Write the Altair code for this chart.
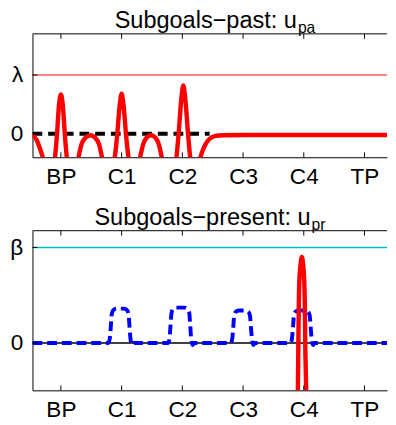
import altair as alt
import pandas as pd

FONT = "Liberation Sans, Arial, Helvetica, sans-serif"

# ---- categories / ticks ----
cat_labels = ["BP", "C1", "C2", "C3", "C4", "TP"]
cat_pos = [1, 2, 3, 4, 5, 6]

# ---- titles ----
title_top = ["Subgoals\u2212past: u", "pa"]
title_bot = ["Subgoals\u2212present: u", "pr"]

# ---- top panel (u_pa) ----
lam_level = [1.0]
past_zero_x = [0.532, 3.45]
past_zero_y = [0.0, 0.0]
past_x = [0.532, 0.597, 0.661, 0.710, 0.758, 0.823, 0.871, 0.903, 0.935, 0.968,
          1.000, 1.032, 1.065, 1.097, 1.145, 1.210, 1.258, 1.290, 1.339, 1.403,
          1.484, 1.565, 1.629, 1.677, 1.726, 1.790, 1.855, 1.887, 1.927, 1.968,
          2.000, 2.032, 2.073, 2.113, 2.161, 2.226, 2.274, 2.306, 2.355, 2.403,
          2.484, 2.565, 2.613, 2.661, 2.710, 2.774, 2.855, 2.903, 2.944, 2.984,
          3.016, 3.048, 3.089, 3.129, 3.177, 3.242, 3.290, 3.355, 3.435, 3.532,
          3.677, 4.032, 4.839, 6.387]
past_y = [-0.03, -0.10, -0.27, -0.43, -0.68, -0.77, -0.60, -0.40, -0.02, 0.48,
          0.67, 0.48, -0.02, -0.40, -0.73, -0.80, -0.57, -0.40, -0.18, -0.07,
          -0.025, -0.07, -0.18, -0.40, -0.63, -0.77, -0.60, -0.40, -0.02, 0.48,
          0.68, 0.48, -0.02, -0.40, -0.68, -0.77, -0.57, -0.40, -0.18, -0.08,
          -0.025, -0.08, -0.18, -0.40, -0.63, -0.80, -0.63, -0.40, 0.07, 0.60,
          0.82, 0.60, 0.07, -0.40, -0.73, -0.63, -0.43, -0.23, -0.10, -0.04,
          -0.025, -0.02, -0.02, -0.02]

# ---- bottom panel (u_pr) ----
beta_level = [1.0]
pres_zero = [0.0]
blue_x = [0.532,
          1.782, 1.806, 1.823, 1.839, 1.871, 1.919, 2.032, 2.081, 2.113, 2.129, 2.145, 2.169, 2.194,
          2.766, 2.790, 2.806, 2.823, 2.855, 2.903, 3.032, 3.081, 3.113, 3.129, 3.145, 3.169, 3.194,
          3.798, 3.823, 3.839, 3.855, 3.887, 3.935, 4.032, 4.081, 4.113, 4.129, 4.145, 4.169, 4.194,
          4.782, 4.806, 4.823, 4.839, 4.871, 4.919, 5.016, 5.065, 5.097, 5.113, 5.129, 5.153, 5.177,
          6.387]
blue_y = [0.0,
          0.0, 0.05, 0.18, 0.31, 0.35, 0.36, 0.36, 0.35, 0.31, 0.18, 0.05, -0.02, 0.0,
          0.0, 0.05, 0.19, 0.32, 0.36, 0.37, 0.37, 0.36, 0.32, 0.19, 0.05, -0.02, 0.0,
          0.0, 0.05, 0.17, 0.29, 0.33, 0.34, 0.34, 0.33, 0.29, 0.17, 0.05, -0.02, 0.0,
          0.0, 0.05, 0.17, 0.29, 0.33, 0.34, 0.34, 0.33, 0.29, 0.17, 0.05, -0.02, 0.0,
          0.0]
red2_x = [4.895, 4.903, 4.911, 4.919, 4.927, 4.944, 4.968, 4.992, 5.008, 5.016, 5.024, 5.040, 5.048]
red2_y = [-0.79, -0.49, 0.0, 0.44, 0.65, 0.80, 0.90, 0.80, 0.65, 0.44, 0.0, -0.49, -0.79]

X_DOMAIN = [0.532, 6.371]
W = 362
H_TOP = 126
H_BOT = 163
TICK_FS = 23
TITLE_FS = 24
SUB_FS = 16

label_expr = "[" + ",".join("'%s'" % s for s in cat_labels) + "][datum.value - 1]"


def xenc(field):
    return alt.X(field, type="quantitative",
                 scale=alt.Scale(domain=X_DOMAIN, nice=False, zero=False),
                 axis=alt.Axis(values=cat_pos, labelExpr=label_expr, title=None,
                               ticks=False, tickSize=0, grid=False, labelPadding=9,
                               domain=True, domainColor="black", domainWidth=1,
                               labelFontSize=TICK_FS, labelFont=FONT, labelColor="black"))


def yenc(field, domain, sym):
    return alt.Y(field, type="quantitative",
                 scale=alt.Scale(domain=domain, nice=False, zero=False),
                 axis=alt.Axis(values=[0, 1], labelExpr="datum.value == 1 ? '%s' : '0'" % sym,
                               title=None, ticks=False, tickSize=0, grid=False, labelPadding=10,
                               domain=True, domainColor="black", domainWidth=1,
                               labelFontSize=TICK_FS, labelFont=FONT, labelColor="black",
                               labelBaseline="middle"))


def frame_layers(H, ydomain, sym, titles):
    ticks_df = pd.DataFrame({"x": cat_pos})
    ylev_df = pd.DataFrame({"y": [0.0, 1.0]})
    top_border = alt.Chart(pd.DataFrame({"a": [0]})).mark_rule(color="black", strokeWidth=1).encode(
        x=alt.value(0), x2=alt.value(W), y=alt.value(0))
    bticks = alt.Chart(ticks_df).mark_rule(color="black", strokeWidth=1).encode(
        x=xenc("x"), y=alt.value(H), y2=alt.value(H - 5))
    tticks = alt.Chart(ticks_df).mark_rule(color="black", strokeWidth=1).encode(
        x=xenc("x"), y=alt.value(0), y2=alt.value(5))
    lticks = alt.Chart(ylev_df).mark_rule(color="black", strokeWidth=1).encode(
        y=yenc("y", ydomain, sym), x=alt.value(0), x2=alt.value(5))
    tdf = pd.DataFrame({"t": [titles[0]], "s": [titles[1]]})
    t_main = alt.Chart(tdf).mark_text(align="right", baseline="alphabetic", fontSize=TITLE_FS,
                                      font=FONT, color="black").encode(
        x=alt.value(titles[2]), y=alt.value(-6), text="t:N")
    t_sub = alt.Chart(tdf).mark_text(align="left", baseline="alphabetic", fontSize=SUB_FS,
                                     font=FONT, color="black").encode(
        x=alt.value(titles[2] + 1), y=alt.value(-1), text="s:N")
    return [top_border, bticks, tticks, lticks, t_main, t_sub]


# ---- top chart ----
top_ydom = [-0.4, 1.7]
lam_df = pd.DataFrame({"y": lam_level})
lam_rule = alt.Chart(lam_df).mark_rule(color="#FF0000", strokeWidth=1).encode(
    y=yenc("y", top_ydom, "\u03bb"))
pz_df = pd.DataFrame({"x": past_zero_x, "y": past_zero_y})
pz_line = alt.Chart(pz_df).mark_line(color="black", strokeWidth=4, strokeDash=[10, 6],
                                     clip=True).encode(
    x=xenc("x"), y=yenc("y", top_ydom, "\u03bb"))
past_df = pd.DataFrame({"x": past_x, "y": past_y})
past_line = alt.Chart(past_df).mark_line(color="#FF0000", strokeWidth=4.5, clip=True,
                                         interpolate="monotone").encode(
    x=xenc("x"), y=yenc("y", top_ydom, "\u03bb"))

top = alt.layer(lam_rule, pz_line, past_line,
                *frame_layers(H_TOP, top_ydom, "\u03bb", title_top + [270])).properties(
    width=W, height=H_TOP)

# ---- bottom chart ----
bot_ydom = [-0.495, 1.175]
beta_df = pd.DataFrame({"y": beta_level})
beta_rule = alt.Chart(beta_df).mark_rule(color="#00BFBF", strokeWidth=1.5).encode(
    y=yenc("y", bot_ydom, "\u03b2"))
z_df = pd.DataFrame({"y": pres_zero})
z_rule = alt.Chart(z_df).mark_rule(color="black", strokeWidth=1.5).encode(
    y=yenc("y", bot_ydom, "\u03b2"))
blue_df = pd.DataFrame({"x": blue_x, "y": blue_y})
blue_line = alt.Chart(blue_df).mark_line(color="#0000FF", strokeWidth=4, strokeDash=[10, 5],
                                         clip=True, interpolate="monotone").encode(
    x=xenc("x"), y=yenc("y", bot_ydom, "\u03b2"))
red2_df = pd.DataFrame({"x": red2_x, "y": red2_y})
red2_line = alt.Chart(red2_df).mark_line(color="#FF0000", strokeWidth=4.5, clip=True,
                                         interpolate="monotone").encode(
    x=xenc("x"), y=yenc("y", bot_ydom, "\u03b2"))

bottom = alt.layer(beta_rule, z_rule, blue_line, red2_line,
                   *frame_layers(H_BOT, bot_ydom, "\u03b2", title_bot + [284])).properties(
    width=W, height=H_BOT)

chart = alt.vconcat(top, bottom, spacing=75, bounds="flush").properties(
    padding={"left": 1, "top": -3, "right": 0, "bottom": 0}
).configure_view(stroke=None).resolve_scale(x="independent", y="independent")

chart.save("out.html", embed_options={"renderer": "svg", "actions": False})
